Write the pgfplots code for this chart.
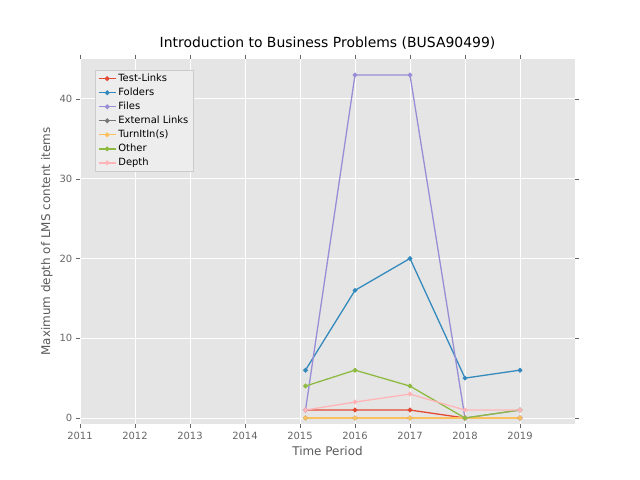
\documentclass[border=0pt]{standalone}
\usepackage{pgfplots}
\pgfplotsset{compat=1.18}
\usepackage{fontspec}
\setmainfont{DejaVu Sans}
\definecolor{c1}{HTML}{E24A33}\definecolor{c2}{HTML}{348ABD}\definecolor{c3}{HTML}{988ED5}
\definecolor{c4}{HTML}{777777}\definecolor{c5}{HTML}{FBC15E}\definecolor{c6}{HTML}{8EBA42}\definecolor{c7}{HTML}{FFB5B8}
\definecolor{bg}{HTML}{E5E5E5}
\begin{document}
\begin{tikzpicture}
\path[use as bounding box] (-80bp,-56bp) rectangle (560bp,424bp);
\begin{axis}[width=495bp,height=365bp,scale only axis,
 at={(0,0)},anchor=south west,
 xmin=2011,xmax=2020,ymin=-0.75,ymax=45,
 xtick={2011,...,2019},ytick={0,10,20,30,40},
 xticklabel style={/pgf/number format/1000 sep={}},
 /pgf/number format/assume math mode=true,
 ticklabel style={font=\fontsize{10}{12}\selectfont,text=black!60},
 axis background/.style={fill=bg},axis line style={draw=none},
 grid=major,major grid style={white,line width=0.8pt},
 tick style={draw=black!60},tick align=outside,
 xlabel={Time Period},ylabel={Maximum depth of LMS content items},
 label style={text=black!65,font=\fontsize{12}{14}\selectfont},
 title={Introduction to Business Problems (BUSA90499)},title style={font=\fontsize{14}{16}\selectfont},
 legend pos=north west,legend style={font=\fontsize{10}{12}\selectfont,fill=bg!70,draw=black!20,cells={anchor=west},row sep=1pt},
 every axis plot/.append style={line width=1.3pt,mark=*,mark size=1.7pt},
 clip=false]
\addplot[c1,mark options={fill=c1}] coordinates {(2015.1,1)(2016,1)(2017,1)(2018,0)(2019,0)};
\addlegendentry{Test-Links}
\addplot[c2,mark options={fill=c2}] coordinates {(2015.1,6)(2016,16)(2017,20)(2018,5)(2019,6)};
\addlegendentry{Folders}
\addplot[c3,mark options={fill=c3}] coordinates {(2015.1,1)(2016,43)(2017,43)(2018,0)(2019,1)};
\addlegendentry{Files}
\addplot[c4,mark options={fill=c4}] coordinates {(2015.1,0)(2016,0)(2017,0)(2018,0)(2019,0)};
\addlegendentry{External Links}
\addplot[c5,mark options={fill=c5}] coordinates {(2015.1,0)(2016,0)(2017,0)(2018,0)(2019,0)};
\addlegendentry{TurnItIn(s)}
\addplot[c6,mark options={fill=c6}] coordinates {(2015.1,4)(2016,6)(2017,4)(2018,0)(2019,1)};
\addlegendentry{Other}
\addplot[c7,mark options={fill=c7}] coordinates {(2015.1,1)(2016,2)(2017,3)(2018,1)(2019,1)};
\addlegendentry{Depth}
\end{axis}
\end{tikzpicture}
\end{document}
